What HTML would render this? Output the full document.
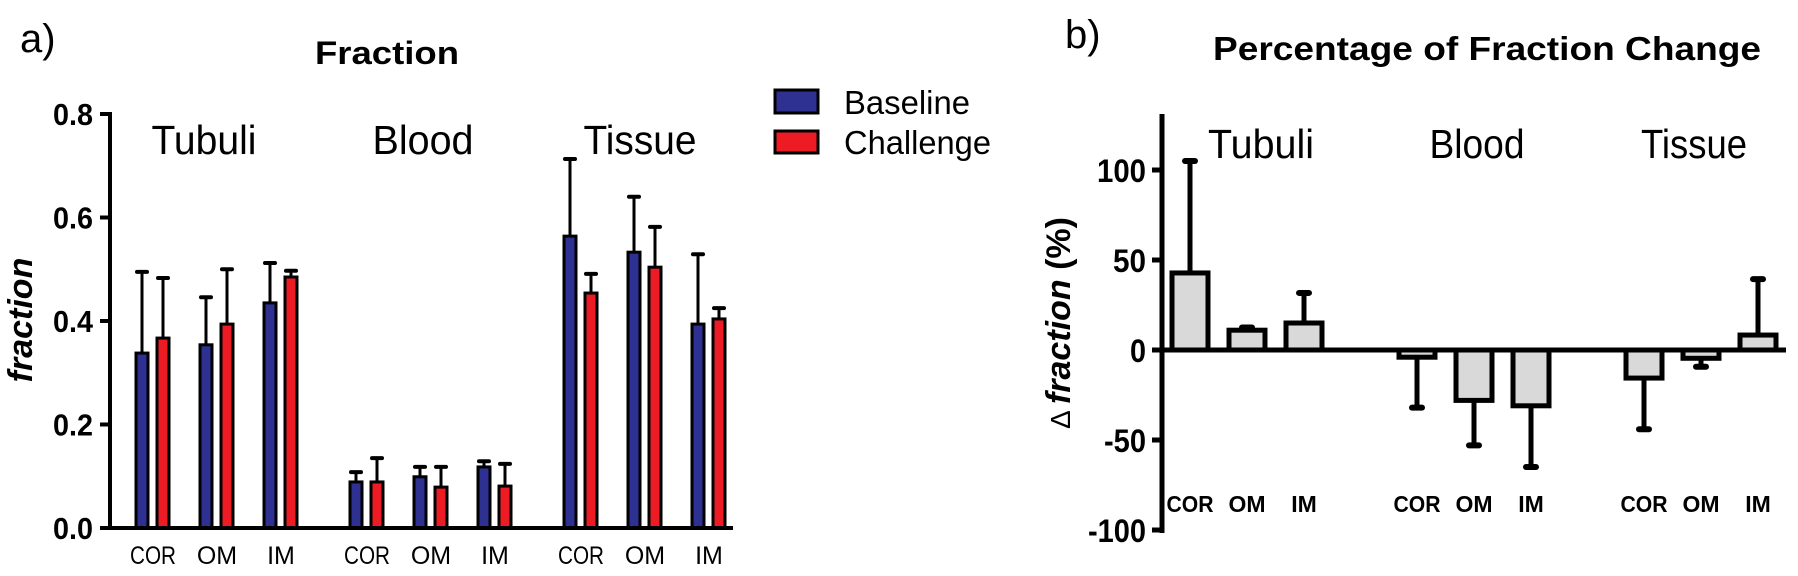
<!DOCTYPE html>
<html><head><meta charset="utf-8"><style>
html,body{margin:0;padding:0;background:#fff;}
svg{display:block;}
text{font-family:"Liberation Sans Narrow","Liberation Sans",sans-serif;fill:#000;}
</style></head><body>
<svg id="chart" width="1798" height="576" viewBox="0 0 1798 576" xmlns="http://www.w3.org/2000/svg">
<text x="20" y="52" font-size="40">a)</text>
<text x="387" y="64" font-size="32" font-weight="bold" text-anchor="middle" textLength="144" lengthAdjust="spacingAndGlyphs">Fraction</text>
<text x="1065" y="48" font-size="40">b)</text>
<text x="1487" y="60" font-size="33" font-weight="bold" text-anchor="middle" textLength="548" lengthAdjust="spacingAndGlyphs">Percentage of Fraction Change</text>
<g>
<rect x="775" y="90" width="43" height="23" fill="#2e3192" stroke="#000" stroke-width="3"/>
<text x="844" y="114" font-size="33" textLength="126" lengthAdjust="spacingAndGlyphs">Baseline</text>
<rect x="775" y="131" width="43" height="22" fill="#ed1c24" stroke="#000" stroke-width="3"/>
<text x="844" y="154" font-size="33" textLength="147" lengthAdjust="spacingAndGlyphs">Challenge</text>
</g>
<g id="left"></g>
<g id="right"></g>
</svg>
<script>
const groups = ["Tubuli","Blood","Tissue"];
const regions = ["COR","OM","IM"];
const baseline = [0.338,0.354,0.435, 0.089,0.099,0.118, 0.564,0.533,0.394];
const baselineErr = [0.495,0.446,0.512, 0.108,0.118,0.129, 0.713,0.640,0.529];
const challenge = [0.367,0.394,0.485, 0.089,0.079,0.081, 0.454,0.504,0.404];
const challengeErr = [0.483,0.500,0.497, 0.135,0.118,0.124, 0.491,0.582,0.425];
const leftTicks = ["0.0","0.2","0.4","0.6","0.8"];
const change = [42.8,11,15, -4,-28,-31, -15.6,-4.6,8.3];
const changeErr = [105,12.5,31.7, -32,-53,-65, -44,-9.3,39.4];
const rightTicks = ["-100","-50","0","50","100"];

const NS="http://www.w3.org/2000/svg";
function mk(parent,tag,attrs){const e=document.createElementNS(NS,tag);for(const k in attrs)e.setAttribute(k,attrs[k]);parent.appendChild(e);return e;}

// left chart
const L=document.getElementById('left');
const ly=v=>528-v*517.5;
const lx=i=>142+Math.floor(i/3)*214+(i%3)*64;
leftTicks.forEach(t=>{const v=parseFloat(t);
 const tk=mk(L,'line',{x1:100,x2:110,y1:ly(v),y2:ly(v),stroke:'#000','stroke-width':4});
 
 const tx=mk(L,'text',{x:93,y:ly(v)+11,'font-size':31,'font-weight':'bold','text-anchor':'end',textLength:40,lengthAdjust:'spacingAndGlyphs'});tx.textContent=t;
 });
function errbar(g,x,y0,y1,w){const a=mk(g,'line',{x1:x,x2:x,y1:y0,y2:y1,stroke:'#000','stroke-width':w});
 const c=mk(g,'line',{x1:x-5,x2:x+5,y1:y1,y2:y1,stroke:'#000','stroke-width':w+1,'stroke-linecap':'round'});}
baseline.forEach((v,i)=>{const x=lx(i);
 errbar(L,x,ly(v),ly(baselineErr[i]),3);
 const r=mk(L,'rect',{x:x-6,y:ly(v),width:12,height:ly(0)-ly(v),fill:'#2e3192',stroke:'#000','stroke-width':3});
 
 const x2=x+21,c=challenge[i];
 errbar(L,x2,ly(c),ly(challengeErr[i]),3);
 const r2=mk(L,'rect',{x:x2-6,y:ly(c),width:12,height:ly(0)-ly(c),fill:'#ed1c24',stroke:'#000','stroke-width':3});
 
 const t=mk(L,'text',{x:x+11,y:564,'font-size':25,'text-anchor':'middle'});t.textContent=regions[i%3];
 if(i%3===0){t.setAttribute('textLength',46);t.setAttribute('lengthAdjust','spacingAndGlyphs');}
 });
const lax=mk(L,'path',{d:'M110 112 V530 M108 528 H733',stroke:'#000','stroke-width':4,fill:'none'});

const lt=mk(L,'text',{x:0,y:0,'font-size':34,'font-weight':'bold','font-style':'italic','text-anchor':'middle',transform:'translate(32,320) rotate(-90)'});lt.textContent='fraction';

const lgW=[105,101,113];
[204,423,640].forEach((cx,g)=>{const t=mk(L,'text',{x:cx-lgW[g]/2,y:154,'font-size':41,textLength:lgW[g],lengthAdjust:'spacingAndGlyphs'});t.textContent=groups[g];
 });

// right chart
const R=document.getElementById('right');
const ry=v=>350-v*1.8;
const rx=i=>1190+Math.floor(i/3)*227+(i%3)*57;
const rtW={"-100":58,"-50":42,"0":16,"50":33,"100":49};
rightTicks.forEach(t=>{const v=parseFloat(t);
 const tk=mk(R,'line',{x1:1152,x2:1162,y1:ry(v),y2:ry(v),stroke:'#000','stroke-width':5});
 
 const tx=mk(R,'text',{x:1146,y:ry(v)+12,'font-size':32,'font-weight':'bold','text-anchor':'end',textLength:rtW[t],lengthAdjust:'spacingAndGlyphs'});tx.textContent=t;
 });
change.forEach((v,i)=>{const x=rx(i);
 errbar(R,x,ry(v),ry(changeErr[i]),5);
 const top=Math.min(ry(v),ry(0)),h=Math.abs(ry(v)-ry(0));
 const r=mk(R,'rect',{x:x-18,y:top,width:36,height:h,fill:'#d9d9da',stroke:'#000','stroke-width':5});
 
 const t=mk(R,'text',{x:x,y:512,'font-size':23,'font-weight':'bold','text-anchor':'middle'});t.textContent=regions[i%3];
 if(i%3===0){t.setAttribute('textLength',47);t.setAttribute('lengthAdjust','spacingAndGlyphs');}
 });
const rax=mk(R,'path',{d:'M1162 114 V533 M1160 350 H1786',stroke:'#000','stroke-width':5,fill:'none'});

const rt=mk(R,'text',{x:0,y:0,'font-size':34,'font-weight':'bold','text-anchor':'middle',transform:'translate(1070,323) rotate(-90)'});
rt.innerHTML='<tspan font-weight="normal" font-size="28">\u0394 </tspan><tspan font-style="italic">fraction</tspan> (%)';

const rgW=[106,95,106];
[1261,1477,1694].forEach((cx,g)=>{const t=mk(R,'text',{x:cx-rgW[g]/2,y:158,'font-size':41,textLength:rgW[g],lengthAdjust:'spacingAndGlyphs'});t.textContent=groups[g];
 });
</script>
</body></html>
